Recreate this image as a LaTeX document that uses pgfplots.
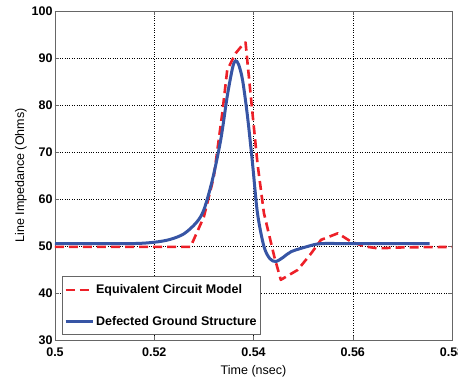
\documentclass[border=0pt]{standalone}
\usepackage{pgfplots}
\pgfplotsset{compat=1.18}
\usetikzlibrary{calc}
\usepackage{fontspec}
\setmainfont{Liberation Sans}
\definecolor{myred}{RGB}{237,32,40}
\definecolor{myblue}{RGB}{55,85,165}
\begin{document}
\begin{tikzpicture}
\begin{axis}[
  scale only axis,
  width=397pt, height=329pt,
  xmin=0.5, xmax=0.58, ymin=30, ymax=100,
  xtick={0.5,0.52,0.54,0.56,0.58},
  xticklabels={0.5,0.52,0.54,0.56,0.58},
  ytick={30,40,50,60,70,80,90,100},
  /pgf/number format/assume math mode=true,
  tick label style={font=\fontsize{12.5}{14}\selectfont\bfseries},
  xticklabel style={yshift=-4pt},
  yticklabel style={xshift=1pt},
  grid=major,
  major grid style={black, dotted, line width=0.5pt},
  axis line style={gray!80!black, line width=0.8pt},
  tick align=inside,
  tick style={gray!80!black},
  xlabel={Time (nsec)},
  ylabel={Line Impedance (Ohms)},
  label style={font=\fontsize{12.5}{14}\selectfont},
  xlabel style={yshift=-2pt},
  ylabel style={yshift=-2pt},
  legend style={at={(0.017,0.015)}, anchor=south west, font=\fontsize{12.5}{14}\selectfont\bfseries,
    draw=gray!80!black, line width=0.8pt, row sep=17pt, inner xsep=2pt, inner ysep=6pt,
    nodes={inner xsep=2pt}},
  legend cell align=left,
  legend image code/.code={\draw[#1] (0pt,0pt) -- (27pt,0pt);},
  clip=true,
]
\addplot[myred, line width=2.6pt, dash pattern=on 9pt off 5pt, line join=round] coordinates {
(0.5,49.8) (0.5273,49.8) (0.5300,56.2) (0.5320,64.7) (0.5337,78.2) (0.5347,87.4)
(0.5364,91.0) (0.5378,92.8) (0.5384,93.3) (0.5388,88.9) (0.5398,78.2) (0.5408,67.6) (0.5421,57.0)
(0.5442,47.7) (0.5455,42.8) (0.5489,44.9) (0.5516,48.4) (0.5536,51.3) (0.5570,52.7)
(0.5597,50.9) (0.5624,49.9) (0.5651,49.5) (0.5700,49.7) (0.58,49.8)
};
\addlegendentry{Equivalent Circuit Model}
\addplot[myblue, line width=3pt, smooth, tension=0.5] coordinates {
(0.5,50.5) (0.5150,50.5) (0.5200,50.8) (0.5232,51.4) (0.5260,52.6) (0.5285,55.0) (0.5300,57.7)
(0.5317,64.0) (0.5334,72.6) (0.5347,81.8) (0.5358,88.0) (0.5364,89.4) (0.5370,88.6)
(0.5378,85.3) (0.5388,77.5) (0.5398,67.6) (0.5408,57.0) (0.5421,49.9) (0.5433,47.3)
(0.5445,46.7) (0.5460,47.6) (0.5476,48.8) (0.5509,49.9) (0.5536,50.5) (0.5600,50.5) (0.5755,50.5)
};
\addlegendentry{Defected Ground Structure}
\end{axis}
\pgfresetboundingbox
\path ($(current axis.south west)+(-55pt,-39pt)$) rectangle ($(current axis.north east)+(6pt,11pt)$);
\end{tikzpicture}
\end{document}
